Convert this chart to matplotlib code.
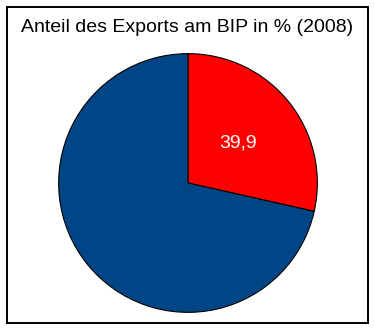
import matplotlib
matplotlib.use("Agg")
import matplotlib.pyplot as plt
from matplotlib.patches import Rectangle

# ── data ─────────────────────────────────────────────
title = "Anteil des Exports am BIP in % (2008)"
values = [39.9, 100.0]          # exports share vs. reference (100)
labels = ["39,9", ""]
colors = ["#ff0000", "#004585"]

W, H = 374, 329
fig = plt.figure(figsize=(W / 100, H / 100), dpi=100)
plt.rcParams["font.family"] = ["Liberation Sans", "DejaVu Sans"]

# outer frame
fig.patches.append(Rectangle((7 / W, 6 / H), 361 / W, 316 / H,
                             transform=fig.transFigure, fill=False,
                             edgecolor="black", linewidth=1.4))

cx, cy, r = 188, 183, 130
ax = fig.add_axes([(cx - r) / W, (H - cy - r) / H, 2 * r / W, 2 * r / H])
wedges, texts = ax.pie(values, colors=colors, labels=labels,
                       startangle=90, counterclock=False,
                       labeldistance=0.5,
                       wedgeprops=dict(edgecolor="black", linewidth=0.8),
                       textprops=dict(color="white", fontsize=14,
                                      ha="center", va="center"))
ax.set_xlim(-1.005, 1.005)
ax.set_ylim(-1.005, 1.005)
ax.set_aspect("equal")
ax.axis("off")

fig.text(187 / W, 1 - 27 / H, title, ha="center", va="center", fontsize=14)

fig.savefig("out.png", dpi=100)
